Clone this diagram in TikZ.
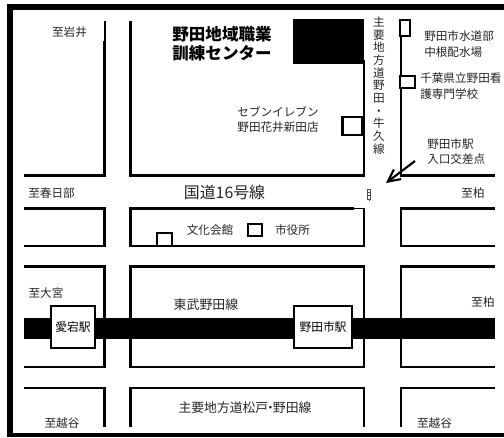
\documentclass[tikz,border=0pt]{standalone}
\usepackage{fontspec}
\setmainfont{Noto Sans CJK JP}
\usetikzlibrary{arrows.meta}
\tikzset{
  x=0.75pt,y=-0.75pt,
  road/.style={line width=2.1pt,line cap=butt,line join=miter},
  thinroad/.style={line width=1.1pt},
  facility/.style={draw,line width=1.6pt,fill=white,inner sep=0},
  stationbox/.style={draw,line width=1.6pt,fill=white,inner sep=0,font=\fontsize{8.8pt}{9pt}\selectfont},
  lbl/.style={font=\fontsize{8.7pt}{11.6pt}\selectfont,inner sep=0,align=left,text=black!85},
  title/.style={font=\fontsize{12.4pt}{14.5pt}\bfseries\selectfont,inner sep=0,align=center}
}
\begin{document}
\begin{tikzpicture}
\useasboundingbox (0,0) rectangle (504,437);
\fill[white] (0,0) rectangle (504,437);
% frame
\fill (7,4) rectangle (504,10);
\fill (7,4) rectangle (13,437);
\fill (7,433) rectangle (504,437);
% blocks
\draw[thinroad] (105,21) -- (105,41);
\draw[road] (104.5,41) -- (104.5,175.5) -- (24,175.5);
\draw[road] (130.5,21) -- (130.5,175.5) -- (364,175.5) -- (364,60);
\draw[road] (401,20) -- (401,175.5) -- (495,175.5);
\draw[road] (24,208.5) -- (104.5,208.5) -- (104.5,246) -- (24,246);
\draw[road] (354,208.5) -- (130.5,208.5) -- (130.5,246) -- (364,246) -- (364,209);
\draw[thinroad] (354,208.5) -- (364.5,208.5);
\draw[road] (495,208.5) -- (401,208.5) -- (401,246) -- (495,246);
\draw[road] (24,266.5) -- (104.5,266.5) -- (104.5,367) -- (24,367);
\draw[road] (364,266.5) -- (130.5,266.5) -- (130.5,367) -- (364,367) -- cycle;
\draw[road] (495,266.5) -- (401,266.5) -- (401,367) -- (495,367);
\draw[road] (24,388) -- (104.5,388) -- (104.5,427);
\draw[road] (130.5,427) -- (130.5,388) -- (364,388) -- (364,427);
\draw[road] (401,427) -- (401,388) -- (495,388);
% railway
\fill (24,318) rectangle (495,339);
% building
\fill (293,19) rectangle (364,64);
% facilities
\node[facility,minimum width=15pt,minimum height=13.5pt] (seven) at (352.5,126) {};
\node[facility,minimum width=7.5pt,minimum height=12pt] (suido) at (405,28) {};
\node[facility,minimum width=11pt,minimum height=9pt] (kango) at (407.5,82) {};
\node[facility,minimum width=11pt,minimum height=9.5pt] (bunka) at (164.5,239.5) {};
\node[facility,minimum width=10pt,minimum height=9pt] (shiyaku) at (255,230) {};
% stations
\node[stationbox,minimum width=33pt,minimum height=31pt] (atago) at (73,327) {\raisebox{-2pt}{愛宕駅}};
\node[stationbox,minimum width=43pt,minimum height=31pt] (noda) at (323,327) {\raisebox{-2pt}{野田市駅}};
% signal
\draw[line width=0.6pt,black!70] (367.5,189) rectangle (370.5,199);
\draw[line width=0.6pt,black!70] (367.5,192.5) -- (370.5,192.5) (367.5,195.5) -- (370.5,195.5) (369,199) -- (369,201);
% arrow
\coordinate (arrowstart) at (415,161);
\coordinate (arrowend) at (386,183);
\draw[line width=1.6pt,-{Straight Barb[length=9pt,width=9pt]}] (arrowstart) -- (arrowend);
% labels
\node[title] (t1) at (222,44) {野田地域職業\\訓練センター};
\node[lbl] (a) at (69.5,32) {至岩井};
\node[lbl] (b) at (51.5,193) {至春日部};
\node[lbl,font=\fontsize{11.9pt}{14pt}\selectfont] (c) at (224.5,192) {国道16号線};
\node[lbl] (d) at (473,193) {至柏};
\node[lbl,align=center] (e) at (278,119.5) {セブンイレブン\\野田花井新田店};
\node[lbl,anchor=west] (f) at (424,44) {野田市水道部\\中根配水場};
\node[lbl,anchor=west] (g) at (420,86) {千葉県立野田看\\護専門学校};
\node[lbl,anchor=west] (h) at (427,151.5) {野田市駅\\入口交差点};
\node[lbl,align=center,font=\fontsize{8.7pt}{9.5pt}\selectfont] (i) at (379,85.5) {主\\要\\地\\方\\道\\野\\田\\・\\牛\\久\\線};
\node[lbl] (j) at (210,230) {文化会館};
\node[lbl] (k) at (292.5,230) {市役所};
\node[lbl] (l) at (46,293) {至大宮};
\node[lbl,font=\fontsize{9.7pt}{12pt}\selectfont] (m) at (206,305) {東武野田線};
\node[lbl] (n) at (483,302) {至柏};
\node[lbl] (o) at (62,423) {至越谷};
\node[lbl,font=\fontsize{9.6pt}{12pt}\selectfont] (p) at (245,408) {主要地方道松戸\kern-3pt・\kern-3pt野田線};
\node[lbl] (q) at (434.5,423) {至越谷};
\end{tikzpicture}
\end{document}
